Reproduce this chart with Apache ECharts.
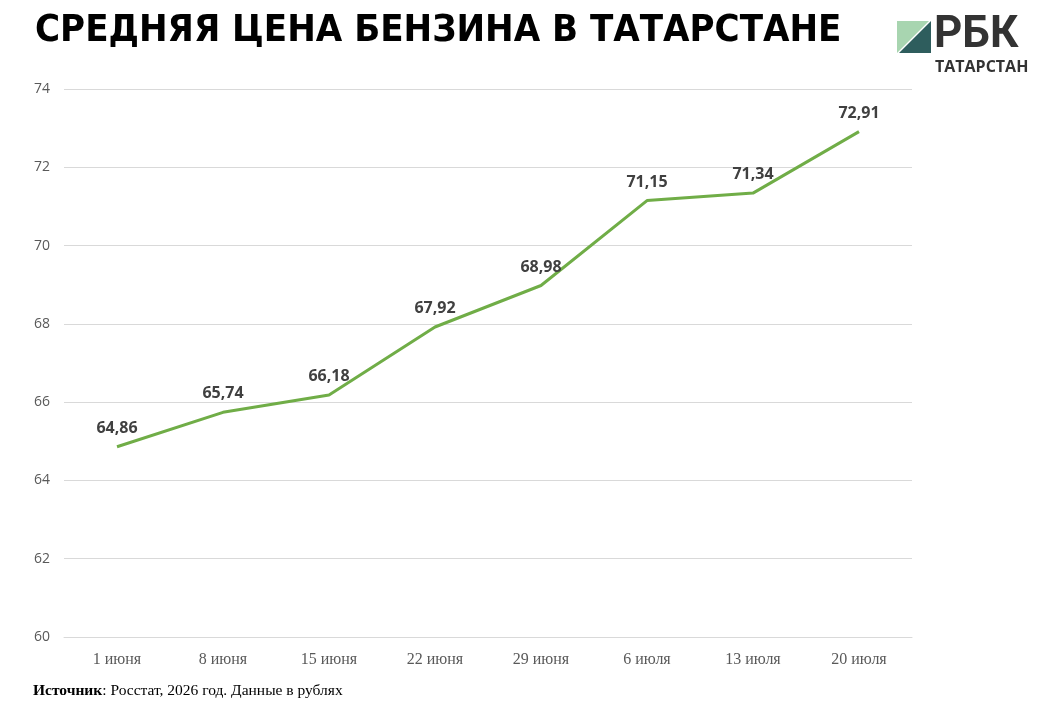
<!DOCTYPE html>
<html><head><meta charset="utf-8">
<script src="https://cdn.jsdelivr.net/npm/echarts@6/dist/echarts.min.js"></script>
<style>html,body{margin:0;padding:0;background:#fff}#c{width:1050px;height:728px}</style>
</head><body><div id="c"></div>
<script>
const categories = ['1 июня','8 июня','15 июня','22 июня','29 июня','6 июля','13 июля','20 июля'];
const prices = [64.86, 65.74, 66.18, 67.92, 68.98, 71.15, 71.34, 72.91];
const yTicks = [60, 62, 64, 66, 68, 70, 72, 74];

const chart = echarts.init(document.getElementById('c'));
chart.setOption({
  backgroundColor: '#fff',
  animation: false,
  grid: {left: 64, right: 138, top: 89, bottom: 91},
  xAxis: {
    type: 'category', data: categories, boundaryGap: true,
    axisLine: {lineStyle: {color: '#d9d9d9'}}, axisTick: {show: false},
    axisLabel: {fontFamily: 'Liberation Serif', fontSize: 16, color: '#595959', margin: 15}
  },
  yAxis: {
    type: 'value', min: yTicks[0], max: yTicks[yTicks.length-1], interval: 2,
    axisLine: {show: false}, axisTick: {show: false},
    splitLine: {lineStyle: {color: '#d9d9d9', width: 1}},
    axisLabel: {fontFamily: 'Open Sans', fontSize: 14, color: '#595959', margin: 14}
  },
  series: [{
    type: 'line', data: prices, symbol: 'circle', symbolSize: 1, showSymbol: true,
    itemStyle: {color: 'rgba(0,0,0,0)'},
    lineStyle: {color: '#70ad47', width: 3},
    label: {show: true, position: 'top', distance: 10,
      formatter: p => p.value.toFixed(2).replace('.', ','),
      fontFamily: 'Open Sans', fontWeight: 'bold', fontSize: 16, color: '#404040'}
  }],
  graphic: [
    {type: 'text', left: 35, top: 12, style: {text: 'СРЕДНЯЯ ЦЕНА БЕНЗИНА В ТАТАРСТАНЕ',
      font: 'bold 38px "Liberation Sans Narrow", "DejaVu Sans Condensed", sans-serif', fill: '#000',
      shadowColor: 'rgba(0,0,0,0.45)', shadowBlur: 3, shadowOffsetX: 2, shadowOffsetY: 2}},
    {type: 'polygon', shape: {points: [[897,21],[929,21],[897,53]]}, style: {fill: '#a8d5b0'}},
    {type: 'polygon', shape: {points: [[931,21],[931,53],[899,53]]}, style: {fill: '#2e5d5d'}},
    {type: 'text', left: 934, top: 14, style: {text: 'РБК', font: 'bold 44px "Liberation Sans Narrow", Roboto, sans-serif', fill: '#333'}},
    {type: 'text', left: 935, top: 59, style: {text: 'ТАТАРСТАН', font: 'bold 16px "Open Sans", sans-serif', fill: '#333'}},
    {type: 'text', left: 33, top: 683, style: {
      text: '{b|Источник}: Росстат, 2026 год. Данные в рублях',
      rich: {b: {fontWeight: 'bold', fontFamily: 'Liberation Serif', fontSize: 15.5, fill: '#000'}},
      font: '15.5px "Liberation Serif", serif', fill: '#000'}}
  ]
});
</script></body></html>
